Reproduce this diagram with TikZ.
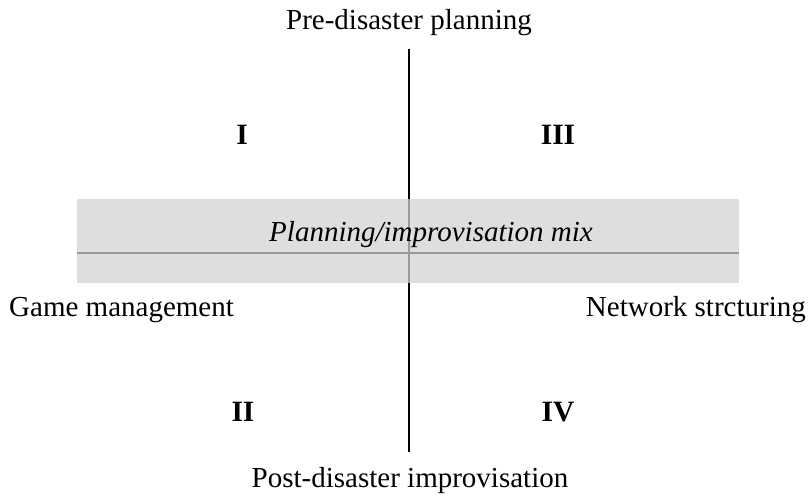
\documentclass[tikz,border=0pt]{standalone}
\usepackage{fontspec}
\setmainfont{Liberation Serif}
\definecolor{boxfill}{HTML}{DEDEDE}
\definecolor{midline}{HTML}{9A9A9A}
\begin{document}
\begin{tikzpicture}[x=1pt,y=-1pt,
  lbl/.style={inner sep=0pt,font=\fontsize{29}{33}\selectfont},
  quad/.style={inner sep=0pt,font=\fontsize{29.5}{33}\selectfont\bfseries,anchor=base}]
\useasboundingbox (0,0) rectangle (808,502);
\coordinate (vtop) at (409,49);
\coordinate (vbot) at (409,452);
\draw[line width=1.6pt,black] (vtop) -- (vbot);
\node[draw=none,fill=boxfill,minimum width=662pt,minimum height=84pt,inner sep=0pt] (mix) at (408,241) {};
\draw[line width=1.6pt,midline] (mix.west |- 0,253) -- (mix.east |- 0,253);
\draw[line width=1.6pt,midline] (mix.north -| vtop) -- (mix.south -| vtop);
\node[lbl,font=\fontsize{29}{33}\selectfont\itshape,anchor=base] (mixt) at (431,242) {Planning/improvisation mix};
\node[lbl,anchor=base] (top) at (409,30) {Pre-disaster planning};
\node[lbl,anchor=base] (bot) at (410,487) {Post-disaster improvisation};
\node[lbl,anchor=base west] (left) at (9,317) {Game management};
\node[lbl,anchor=base east] (right) at (806,317) {Network strcturing};
\node[quad] (q1) at (242,145) {I};
\node[quad] (q3) at (558,145) {III};
\node[quad] (q2) at (243,421) {II};
\node[quad] (q4) at (558,421) {IV};
\end{tikzpicture}
\end{document}
